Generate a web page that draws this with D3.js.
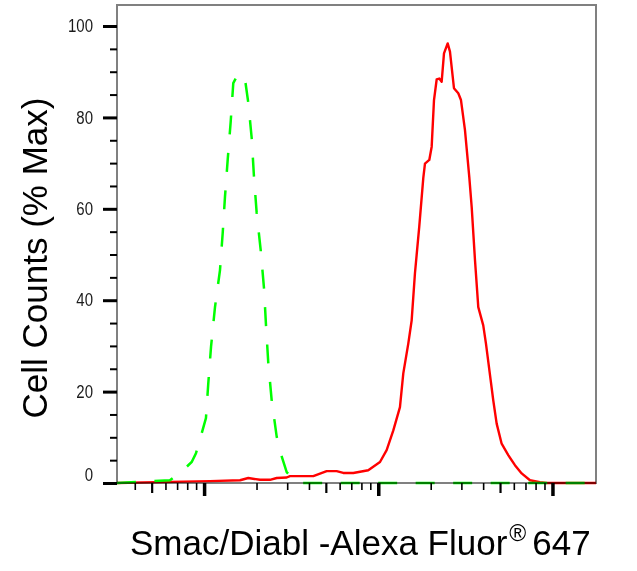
<!DOCTYPE html>
<html>
<head>
<meta charset="utf-8">
<script src="https://cdn.jsdelivr.net/npm/d3@7/dist/d3.min.js"></script>
<style>
body { margin: 0; background: #fff; }
text { font-family: "Liberation Sans", Arial, sans-serif; }
</style>
</head>
<body>
<div id="chart"></div>
<script>
// isotype control (green dashed) - fluorescence intensity / % max
var controlX = [3.16, 6.37, 7.77, 8.49, 8.98, 9.69, 10.25, 10.57, 10.96, 11.55, 12.34, 12.79, 13.18, 13.66,
    14.21, 14.71, 15.72, 16.44, 17.17, 17.94, 18.76, 19.34, 20.04, 21.13, 22.08, 22.67, 23.37, 24.44,
    26.12, 27.53, 29.8, 31.85, 35.5, 1778];
var controlY = [0, 0.6, 3.2, 4.6, 6.5, 10.9, 14.2, 21.8, 29.8, 38.5, 46.6, 54.7, 62.6, 70.7,
    79.0, 87.5, 89.6, 88.8, 88.4, 83.2, 75.5, 67.0, 59.1, 51.0, 42.6, 34.5, 26.2, 18.1,
    10.1, 6.5, 2.4, 1.2, 0, 0];

// Smac/Diablo stained (red solid)
var stainedX = [3.16, 10.81, 16.08, 17.94, 20.94, 23.89, 26.12, 29.8, 31.12, 42.37, 50.56, 57.7, 62.96,
    71.86, 87.6, 102.3, 111.7, 122.0, 133.2, 139.2, 148.7, 155.5, 162.4, 171.9, 181.3, 185.4, 196.3,
    202.6, 208.9, 216.4, 224.0, 231.2, 238.4, 250.3, 258.0, 272.0, 288.0, 298.4, 314.6, 333.0, 343.8,
    359.1, 375.1, 400.6, 415.2, 441.8, 457.3, 478.3, 510.9, 557.6, 609.1, 665.7, 742.9, 847.8, 926.3, 1778];
var stainedY = [0, 0.4, 0.6, 1.1, 0.7, 0.7, 1.1, 1.2, 1.5, 1.5, 2.6, 2.6, 2.2,
    2.2, 2.8, 4.6, 7.2, 11.5, 16.6, 24.0, 30.5, 35.6, 45.9, 56.1, 66.7, 69.9, 70.7,
    73.6, 83.8, 88.3, 88.5, 87.8, 94.0, 96.2, 94.4, 86.4, 85.3, 83.8, 77.2, 67.0, 60.4,
    48.8, 38.5, 34.5, 30.5, 22.5, 18.1, 13.0, 8.6, 6.1, 3.9, 2.1, 0.6, 0.2, 0, 0];

var yTicks = [0, 20, 40, 60, 80, 100];
var xDecades = [10, 100, 1000];

var svgWidth = 637;
var svgHeight = 571;

var margin = {
    top: 5,
    right: 41,
    bottom: 88,
    left: 117
};

var width = svgWidth - margin.left - margin.right;
var height = svgHeight - margin.top - margin.bottom;

var svg = d3.select("#chart")
    .append("svg")
    .attr("width", svgWidth)
    .attr("height", svgHeight);

var chartGroup = svg.append("g")
    .attr("transform", `translate(${margin.left}, ${margin.top})`);

var xScale = d3.scaleLog()
    .domain([Math.pow(10, 0.5), Math.pow(10, 3.25)])
    .range([0, width]);

var yScale = d3.scaleLinear()
    .domain([0, 104.6])
    .range([height, 0]);

// frame
chartGroup.append("rect")
    .attr("x", 0)
    .attr("y", 0)
    .attr("width", width)
    .attr("height", height)
    .attr("fill", "none")
    .attr("stroke", "#808080")
    .attr("stroke-width", 2);

// curves
svg.append("defs").append("clipPath")
    .attr("id", "plotClip")
    .append("rect")
    .attr("x", 0).attr("y", -2)
    .attr("width", width).attr("height", height + 4);

var line = d3.line()
    .x(d => xScale(d[0]))
    .y(d => yScale(d[1]));

var curves = chartGroup.append("g")
    .attr("clip-path", "url(#plotClip)")
    .style("mix-blend-mode", "multiply");

curves.append("path")
    .datum(d3.zip(stainedX, stainedY))
    .attr("d", line)
    .attr("fill", "none")
    .attr("stroke", "#ff0000")
    .attr("stroke-width", 2.4)
    .attr("stroke-linejoin", "round");

curves.append("path")
    .datum(d3.zip(controlX, controlY))
    .attr("d", line)
    .attr("fill", "none")
    .attr("stroke", "#00ff00")
    .attr("stroke-width", 2.5)
    .attr("stroke-dasharray", "19,18.5");

// y axis: minor ticks every 5, major every 20
var yMinor = d3.range(5, 105, 5).filter(v => v % 20 != 0);
chartGroup.append("g")
    .call(d3.axisLeft(yScale).tickValues(yMinor).tickSize(7).tickFormat(""))
    .call(g => g.select(".domain").remove())
    .selectAll("line")
    .attr("stroke", "#000")
    .attr("stroke-width", 2);

var yAxis = chartGroup.append("g")
    .call(d3.axisLeft(yScale).tickValues(yTicks).tickSize(14).tickPadding(10))
    .call(g => g.select(".domain").remove());
yAxis.selectAll("line")
    .attr("stroke", "#000")
    .attr("stroke-width", 3);
yAxis.selectAll("text")
    .style("font-size", "17.5px")
    .style("font-family", "'Liberation Sans', Arial, sans-serif")
    .attr("fill", "#1a1a1a")
    .attr("textLength", d => String(d).length * 8.35)
    .attr("lengthAdjust", "spacingAndGlyphs")
    .attr("y", d => d == 0 ? -8 : 0);

// x axis: log ticks, 5 slightly longer, decades thick
var xMinor = [];
[1, 10, 100, 1000].forEach(function(dec) {
    for (var m = 2; m <= 9; m++) {
        var v = dec * m;
        if (v > xScale.domain()[0] && v < xScale.domain()[1] && m != 5) xMinor.push(v);
    }
});
var xMid = [5, 50, 500];

chartGroup.append("g")
    .attr("transform", `translate(0, ${height})`)
    .call(d3.axisBottom(xScale).tickValues(xMinor).tickSize(7).tickFormat(""))
    .call(g => g.select(".domain").remove())
    .selectAll("line")
    .attr("stroke", "#000")
    .attr("stroke-width", 1.6);

chartGroup.append("g")
    .attr("transform", `translate(0, ${height})`)
    .call(d3.axisBottom(xScale).tickValues(xMid).tickSize(10).tickFormat(""))
    .call(g => g.select(".domain").remove())
    .selectAll("line")
    .attr("stroke", "#000")
    .attr("stroke-width", 2.2);

chartGroup.append("g")
    .attr("transform", `translate(0, ${height})`)
    .call(d3.axisBottom(xScale).tickValues(xDecades).tickSize(13).tickFormat(""))
    .call(g => g.select(".domain").remove())
    .selectAll("line")
    .attr("stroke", "#000")
    .attr("stroke-width", 3.5);

// axis titles
chartGroup.append("text")
    .attr("transform", `translate(${47 - margin.left}, ${258 - margin.top}) rotate(-90)`)
    .attr("text-anchor", "middle")
    .style("font-size", "35px")
    .attr("fill", "#000")
    .text("Cell Counts (% Max)");

var xTitle = svg.append("text")
    .attr("x", 130)
    .attr("y", 555)
    .style("font-size", "35px")
    .attr("fill", "#000");
xTitle.append("tspan").text("Smac/Diabl -Alexa Fluor");
xTitle.append("tspan").attr("dx", 2).attr("dy", -14).style("font-size", "23px").text("\u00AE");
xTitle.append("tspan").attr("dx", 6).attr("dy", 14).text("647");
</script>
</body>
</html>
